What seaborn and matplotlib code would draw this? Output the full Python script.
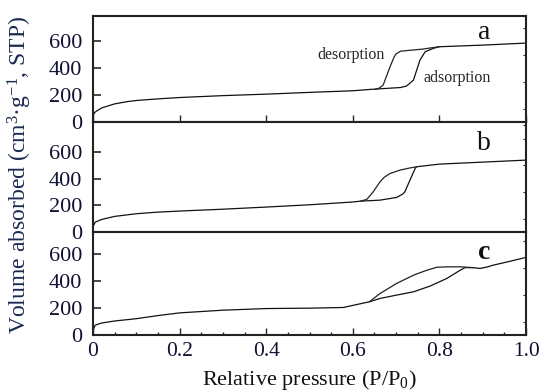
import numpy as np
import pandas as pd
import matplotlib
matplotlib.use("Agg")
import matplotlib.pyplot as plt
import seaborn as sns
from matplotlib.ticker import MultipleLocator

# ---------------- data ----------------
a_ads_x = [0, 0.005, 0.02, 0.05, 0.08, 0.1, 0.15, 0.2, 0.3, 0.4, 0.5, 0.6, 0.64, 0.68, 0.71,
           0.724, 0.74, 0.755, 0.767, 0.786, 0.8, 0.9, 1.0]
a_ads_y = [50, 75, 105, 135, 152, 160, 172, 182, 196, 207, 220, 232, 242, 250, 256,
           267, 311, 459, 521, 546, 558, 570, 585]
a_des_x = [0.8, 0.786, 0.76, 0.72, 0.71, 0.70, 0.695, 0.686, 0.67, 0.66, 0.651]
a_des_y = [558, 552, 540, 528, 525, 505, 480, 410, 274, 250, 242]

b_ads_x = [0, 0.005, 0.02, 0.05, 0.1, 0.15, 0.2, 0.3, 0.4, 0.5, 0.6, 0.617, 0.663, 0.701,
           0.715, 0.72, 0.732, 0.744, 0.747, 0.8, 0.9, 1.0]
b_ads_y = [40, 75, 95, 118, 138, 150, 158, 172, 188, 205, 226, 232, 240, 260,
           285, 302, 390, 478, 490, 510, 525, 540]
b_des_x = [0.747, 0.73, 0.709, 0.686, 0.672, 0.663, 0.647, 0.632, 0.617]
b_des_y = [490, 480, 465, 440, 410, 378, 302, 245, 232]

c_ads_x = [0, 0.005, 0.02, 0.05, 0.1, 0.15, 0.2, 0.3, 0.4, 0.5, 0.578, 0.638, 0.663, 0.7,
           0.74, 0.778, 0.817, 0.848, 0.859, 0.878, 0.894, 0.91, 0.925, 0.96, 1.0]
c_ads_y = [37, 74, 90, 105, 122, 145, 165, 185, 197, 200, 205, 247, 272, 296,
           321, 363, 420, 481, 500, 500, 494, 505, 519, 545, 576]
c_des_x = [0.878, 0.85, 0.82, 0.794, 0.77, 0.74, 0.701, 0.663, 0.638]
c_des_y = [500, 506, 506, 503, 480, 444, 383, 309, 247]

panel_labels = ["a", "b", "c"]
y_ticks = [0, 200, 400, 600]
x_ticks = [0, 0.2, 0.4, 0.6, 0.8, 1.0]
x_tick_labels = ["0", "0.2", "0.4", "0.6", "0.8", "1.0"]

# ---------------- style ----------------
sns.set_style("ticks")
plt.rcParams['font.family'] = ['Liberation Serif', 'DejaVu Serif']
plt.rcParams['mathtext.fontset'] = 'custom'
plt.rcParams['mathtext.rm'] = 'Liberation Serif'
plt.rcParams['mathtext.it'] = 'Liberation Serif:italic'

fig, axes = plt.subplots(3, 1, sharex=True, figsize=(5.44, 3.92), dpi=100,
                         gridspec_kw=dict(height_ratios=[106, 110, 103], hspace=0))
fig.subplots_adjust(left=0.171, right=0.967, top=0.959, bottom=0.145)

panels = [
    (a_ads_x, a_ads_y, a_des_x, a_des_y, 785, 667),
    (b_ads_x, b_ads_y, b_des_x, b_des_y, 825, 668),
    (c_ads_x, c_ads_y, c_des_x, c_des_y, 763, 615),
]
tick_color = '#111133'
for i, (ax, (ax_x, ax_y, dx, dy, ymax, ly)) in enumerate(zip(axes, panels)):
    df_a = pd.DataFrame({"x": ax_x, "y": ax_y})
    df_d = pd.DataFrame({"x": dx, "y": dy})
    sns.lineplot(data=df_a, x="x", y="y", sort=False, ax=ax, color="#111111", lw=0.9)
    sns.lineplot(data=df_d, x="x", y="y", sort=False, ax=ax, color="#222222", lw=0.9)
    ax.set_xlim(0, 1.0)
    ax.set_ylim(0, ymax)
    ax.set_yticks(y_ticks)
    ax.yaxis.set_minor_locator(MultipleLocator(100))
    ax.set_xlabel("")
    ax.set_ylabel("")
    for s in ax.spines.values():
        s.set_linewidth(1.5)
        s.set_color("#222222")
    ax.tick_params(axis='y', which='major', direction='in', length=6, width=1.2,
                   labelsize=16, labelcolor=tick_color, pad=8)
    ax.tick_params(axis='y', which='minor', left=False, right=True, direction='in',
                   length=2, width=0.8)
    ax.xaxis.set_minor_locator(MultipleLocator(0.05))
    if i == 2:
        ax.tick_params(axis='x', which='major', direction='in', length=5, width=1,
                       labelsize=15.5, labelcolor=tick_color, pad=5)
        ax.tick_params(axis='x', which='minor', direction='in', length=2.5, width=1)
    elif i == 0:
        ax.tick_params(axis='x', which='major', direction='in', length=5, width=1)
        ax.tick_params(axis='x', which='minor', bottom=False)
    else:
        ax.tick_params(axis='x', which='both', bottom=False)
    ax.text(0.903, ly, panel_labels[i], fontsize=20, ha='center', va='center',
            fontweight='bold' if i == 2 else 'normal', color='#111111')

axes[0].text(0.596, 496, "desorption", fontsize=11.5, ha='center', va='center')
axes[0].text(0.841, 326, "adsorption", fontsize=11.5, ha='center', va='center')

axes[2].set_xticks(x_ticks)
axes[2].set_xticklabels(x_tick_labels)
axes[2].set_xlabel("Relative pressure (P/P$_0$)", fontsize=16, labelpad=5, color='#111111')

fig.text(0.037, 0.555, "Volume absorbed (cm$^3$·g$^{-1}$, STP)", rotation=90,
         ha='center', va='center', fontsize=17, color='#1c2951')

fig.savefig("out.png", dpi=100)
